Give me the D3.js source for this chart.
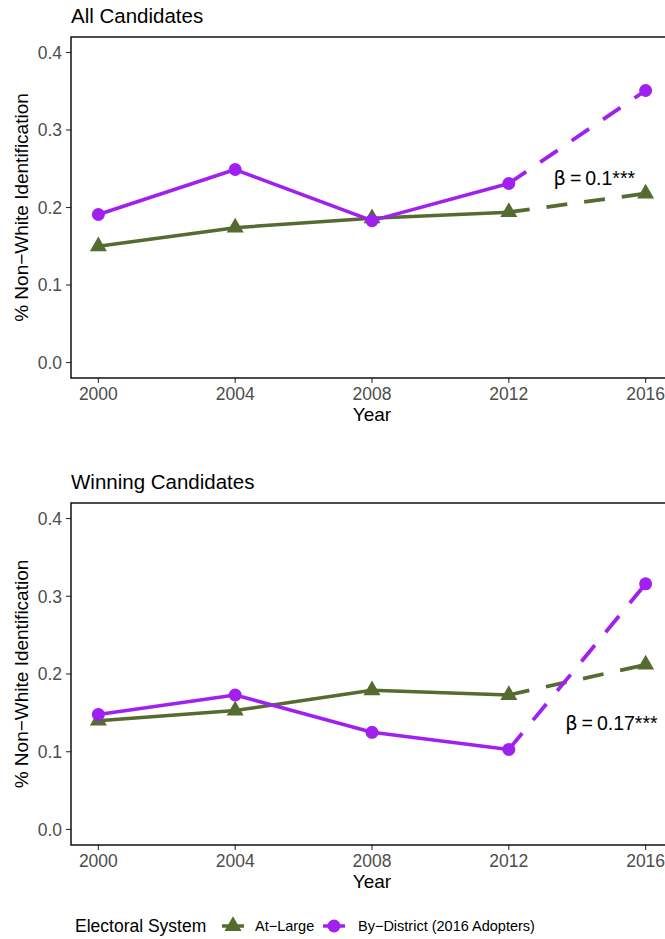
<!DOCTYPE html>
<html>
<head>
<meta charset="utf-8">
<script src="https://cdn.jsdelivr.net/npm/d3@7"></script>
<style>
  html, body { margin: 0; padding: 0; background: #fff; }
  svg { display: block; font-family: "Liberation Sans", Arial, Helvetica, sans-serif; }
</style>
</head>
<body>
<div id="chart"></div>
<script>
// ---- data ----
const years = [2000, 2004, 2008, 2012, 2016];
const yTicks = [0.0, 0.1, 0.2, 0.3, 0.4];
const yTickLabels = ["0.0", "0.1", "0.2", "0.3", "0.4"];
const panelTitles = ["All Candidates", "Winning Candidates"];
const seriesNames = ["At\u2212Large", "By\u2212District (2016 Adopters)"];
const seriesColors = ["#556B2F", "#A020F0"];

const allAtLarge = [0.150, 0.174, 0.186, 0.194, 0.218];
const allByDistrict = [0.191, 0.249, 0.183, 0.231, 0.351];
const winAtLarge = [0.140, 0.153, 0.179, 0.173, 0.212];
const winByDistrict = [0.148, 0.173, 0.125, 0.103, 0.316];

const betaLabels = ["0.1", "0.17"];
const betaPosX = [2014.5, 2015.0];
const betaPosY = [0.238, 0.137];

const panelsData = [
  [allAtLarge, allByDistrict],
  [winAtLarge, winByDistrict]
];

// ---- layout ----
const W = 665, H = 939;
const svg = d3.select("#chart").append("svg").attr("width", W).attr("height", H);

const panelLeft = 71, panelRight = 673;
const panelTops = [37, 503];
const panelBottoms = [378, 845];

const x = d3.scaleLinear().domain([1999.2, 2016.8]).range([panelLeft, panelRight]);

const tri = d3.symbol().type(d3.symbolTriangle).size(125);

panelsData.forEach((series, pi) => {
  const top = panelTops[pi], bottom = panelBottoms[pi];
  const y = d3.scaleLinear().domain([-0.02, 0.42]).range([bottom, top]);
  const g = svg.append("g");

  // title
  g.append("text").attr("x", panelLeft).attr("y", top - 14.5)
    .attr("font-size", 20.5).attr("fill", "#000").text(panelTitles[pi]);

  // y axis ticks & labels
  g.selectAll(".yt").data(yTicks).join("line")
    .attr("x1", panelLeft - 5).attr("x2", panelLeft)
    .attr("y1", d => y(d)).attr("y2", d => y(d))
    .attr("stroke", "#333").attr("stroke-width", 1.1);
  g.selectAll(".ytl").data(yTicks).join("text")
    .attr("x", panelLeft - 9).attr("y", d => y(d)).attr("dy", "0.36em")
    .attr("text-anchor", "end").attr("font-size", 17.5).attr("fill", "#4D4D4D")
    .text((d, i) => yTickLabels[i]);

  // x axis ticks & labels
  g.selectAll(".xt").data(years).join("line")
    .attr("x1", d => x(d)).attr("x2", d => x(d))
    .attr("y1", bottom).attr("y2", bottom + 5)
    .attr("stroke", "#333").attr("stroke-width", 1.1);
  g.selectAll(".xtl").data(years).join("text")
    .attr("x", d => x(d)).attr("y", bottom + 21.5)
    .attr("text-anchor", "middle").attr("font-size", 17.5).attr("fill", "#4D4D4D")
    .text(d => d);

  // axis titles
  g.append("text").attr("x", (panelLeft + panelRight) / 2).attr("y", bottom + 42.5)
    .attr("text-anchor", "middle").attr("font-size", 19).attr("fill", "#000").text("Year");
  g.append("text")
    .attr("transform", `translate(28,${(top + bottom) / 2}) rotate(-90)`)
    .attr("text-anchor", "middle").attr("font-size", 19).attr("fill", "#000")
    .text("% Non\u2212White Identification");

  // lines: solid 2000-2012, dashed 2012-2016
  const line = d3.line().x(d => x(d[0])).y(d => y(d[1]));
  series.forEach((vals, si) => {
    const pts = years.map((yr, i) => [yr, vals[i]]);
    g.append("path").attr("d", line(pts.slice(0, 4)))
      .attr("fill", "none").attr("stroke", seriesColors[si])
      .attr("stroke-width", 3.5).attr("stroke-linejoin", "round").attr("stroke-linecap", "round");
    g.append("path").attr("d", line(pts.slice(3)))
      .attr("fill", "none").attr("stroke", seriesColors[si])
      .attr("stroke-width", 3.8).attr("stroke-dasharray", "21,17");
  });
  // points
  series.forEach((vals, si) => {
    const pts = years.map((yr, i) => [yr, vals[i]]);
    if (si === 0) {
      g.selectAll(".tri" + si).data(pts).join("path")
        .attr("d", tri).attr("transform", d => `translate(${x(d[0])},${y(d[1])})`)
        .attr("fill", seriesColors[si]);
    } else {
      g.selectAll(".cir" + si).data(pts).join("circle")
        .attr("cx", d => x(d[0])).attr("cy", d => y(d[1])).attr("r", 6.5)
        .attr("fill", seriesColors[si]);
    }
  });

  // annotation
  const t = g.append("text").attr("x", x(betaPosX[pi])).attr("y", y(betaPosY[pi]))
    .attr("dy", "0.36em").attr("text-anchor", "middle").attr("font-size", 19.5).attr("fill", "#000");
  t.append("tspan").attr("font-family", "DejaVu Sans, sans-serif").text("\u03B2");
  t.append("tspan").text("\u2009=\u2009" + betaLabels[pi] + "***");

  // panel border
  g.append("rect").attr("x", panelLeft).attr("y", top)
    .attr("width", panelRight - panelLeft).attr("height", bottom - top)
    .attr("fill", "none").attr("stroke", "#000").attr("stroke-width", 1.4);
});

// ---- legend ----
const lg = svg.append("g");
const legY = 926;
lg.append("text").attr("x", 75).attr("y", legY).attr("dy", "0.36em")
  .attr("font-size", 17.5).attr("fill", "#000").text("Electoral System");
const keyX = [222, 323];
const labX = [255, 358];
seriesNames.forEach((name, si) => {
  lg.append("line").attr("x1", keyX[si]).attr("x2", keyX[si] + 22)
    .attr("y1", legY).attr("y2", legY)
    .attr("stroke", seriesColors[si]).attr("stroke-width", 3.5);
  if (si === 0) {
    lg.append("path").attr("d", tri).attr("transform", `translate(${keyX[si] + 11},${legY})`)
      .attr("fill", seriesColors[si]);
  } else {
    lg.append("circle").attr("cx", keyX[si] + 11).attr("cy", legY).attr("r", 6.5)
      .attr("fill", seriesColors[si]);
  }
  lg.append("text").attr("x", labX[si]).attr("y", legY).attr("dy", "0.36em")
    .attr("font-size", 14.5).attr("fill", "#000").text(name);
});
</script>
</body>
</html>
